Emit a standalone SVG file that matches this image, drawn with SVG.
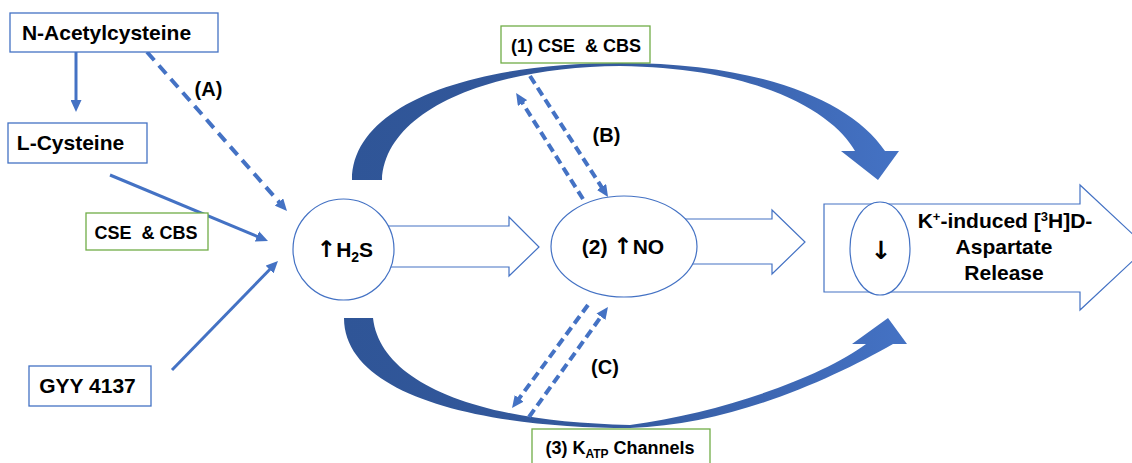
<svg xmlns="http://www.w3.org/2000/svg" width="1132" height="463" viewBox="0 0 1132 463">
<style>
.lbl{font-family:"Liberation Sans",Arial,sans-serif;font-weight:bold;fill:#000;white-space:pre}
.arw{font-family:"DejaVu Sans",sans-serif;font-weight:bold}
.bbox{fill:#fff;stroke:#4472C4;stroke-width:1.3}
.gbox{fill:#fff;stroke:#70AD47;stroke-width:1.3}
.shape{fill:#fff;stroke:#4472C4;stroke-width:1.2}
.solid{fill:none;stroke:#4472C4;stroke-width:3;marker-end:url(#ah)}
.dashA{fill:none;stroke:#4472C4;stroke-width:4;stroke-dasharray:11 7;marker-end:url(#ah)}
.dashB{fill:none;stroke:#4472C4;stroke-width:4;stroke-dasharray:9 5;marker-end:url(#ah)}
</style>
<defs>
<marker id="ah" markerUnits="userSpaceOnUse" markerWidth="13" markerHeight="11" refX="4" refY="5.5" orient="auto">
<path d="M0,0 L12,5.5 L0,11 Z" fill="#4472C4"/>
</marker>
<linearGradient id="cg" x1="0" y1="0" x2="1" y2="0">
<stop offset="0" stop-color="#2F5597"/>
<stop offset="0.45" stop-color="#34599D"/>
<stop offset="1" stop-color="#4472C4"/>
</linearGradient>
</defs>

<g id="connectors">
<path id="curve-top" d="M352,180 C352,105 470,63 620,63 C760,63 850,100 885,151 L899,151 L878,180 L841,151 L855,151 C835,115 765,68 620,66 C490,67 385,110 382,180 Z" fill="url(#cg)"/>
<path id="curve-bottom" d="M344,318 C344,395 480,428 630,428 C730,425 830,380 893,344 L907,344 L888,318 L852,344 L866,344 C820,378 720,413 630,425 C470,422 380,380 373,318 Z" fill="url(#cg)"/>
<line class="solid" x1="76" y1="52" x2="76" y2="104"/>
<line class="solid" x1="110" y1="175" x2="260.6" y2="237.9"/>
<line class="solid" x1="172" y1="370" x2="272.4" y2="266.7"/>
<line class="dashA" x1="147" y1="52" x2="281.7" y2="205"/>
<line class="dashB" x1="530" y1="76" x2="603.7" y2="190.3"/>
<line class="dashB" x1="583" y1="199" x2="520.4" y2="99.7"/>
<line class="dashB" x1="588" y1="305" x2="516.8" y2="401.6"/>
<line class="dashB" x1="529" y1="417" x2="603.3" y2="313.5"/>
<text class="lbl" x="208.5" y="96" font-size="20" text-anchor="middle">(A)</text>
<text class="lbl" x="606.5" y="142" font-size="20" text-anchor="middle">(B)</text>
<text class="lbl" x="605" y="374" font-size="20" text-anchor="middle">(C)</text>
</g>

<g id="nac">
<rect class="bbox" x="10" y="13" width="208" height="39"/>
<text class="lbl" x="106.5" y="40" font-size="21" text-anchor="middle">N-Acetylcysteine</text>
</g>
<g id="lcys">
<rect class="bbox" x="8" y="123" width="139" height="40"/>
<text class="lbl" x="70.5" y="150" font-size="21" text-anchor="middle">L-Cysteine</text>
</g>
<g id="cse-left">
<rect class="gbox" x="86" y="213" width="122" height="37"/>
<text class="lbl" x="146" y="239" font-size="18" text-anchor="middle">CSE  &amp; CBS</text>
</g>
<g id="gyy">
<rect class="bbox" x="29" y="366" width="122" height="40"/>
<text class="lbl" x="87.5" y="393" font-size="21" text-anchor="middle">GYY 4137</text>
</g>
<g id="cse-top">
<rect class="gbox" x="501" y="26" width="149" height="37"/>
<text class="lbl" x="576" y="52" font-size="18" text-anchor="middle">(1) CSE  &amp; CBS</text>
</g>
<g id="katp">
<rect class="gbox" x="532" y="429" width="178" height="40"/>
<text class="lbl" x="620" y="454" font-size="18" text-anchor="middle">(3) K<tspan dy="4" font-size="12">ATP</tspan><tspan dy="-4"> Channels</tspan></text>
</g>

<g id="h2s">
<path class="shape" d="M370,226 L509,226 L509,217 L539,247 L509,276 L509,267 L370,267 Z"/>
<ellipse class="shape" cx="343.5" cy="249.5" rx="50.5" ry="50.5"/>
<text class="lbl" x="345" y="257" font-size="21" text-anchor="middle"><tspan class="arw" font-size="23">↑</tspan>H<tspan dy="5" font-size="14">2</tspan><tspan dy="-5">S</tspan></text>
</g>
<g id="no">
<path class="shape" d="M660,219 L772,219 L772,210 L805,242 L772,274 L772,264 L660,264 Z"/>
<ellipse class="shape" cx="624" cy="246.5" rx="73" ry="50.5"/>
<text class="lbl" x="623" y="254" font-size="21" text-anchor="middle">(2) <tspan class="arw" font-size="23">↑</tspan>NO</text>
</g>
<g id="release">
<path class="shape" d="M824,204 L1080,204 L1080,185 L1147,247.5 L1080,310 L1080,292 L824,292 Z"/>
<ellipse class="shape" cx="880" cy="248.5" rx="30" ry="46.5"/>
<text class="lbl arw" x="881" y="259" font-size="25" text-anchor="middle">↓</text>
<text class="lbl" x="1005" y="228" font-size="21" text-anchor="middle">K<tspan dy="-7" font-size="13">+</tspan><tspan dy="7">-induced [</tspan><tspan dy="-7" font-size="13">3</tspan><tspan dy="7">H]D-</tspan></text>
<text class="lbl" x="1004" y="254" font-size="21" text-anchor="middle">Aspartate</text>
<text class="lbl" x="1004" y="280" font-size="21" text-anchor="middle">Release</text>
</g>
</svg>
